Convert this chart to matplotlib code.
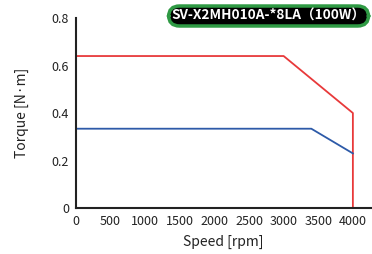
#!/usr/bin/env python3
import matplotlib
matplotlib.use('Agg')
import matplotlib.pyplot as plt

# Torque-speed curve data
peak_speed = [0, 3000, 4000, 4000]
peak_torque = [0.64, 0.64, 0.40, 0.0]

cont_speed = [0, 3400, 4000]
cont_torque = [0.334, 0.334, 0.23]

x_ticks = [0, 500, 1000, 1500, 2000, 2500, 3000, 3500, 4000]
y_ticks = [0, 0.2, 0.4, 0.6, 0.8]
y_labels = ['0', '0.2', '0.4', '0.6', '0.8']

title = 'SV-X2MH010A-*8LA（100W）'

plt.rcParams['font.family'] = ['Noto Sans CJK JP', 'DejaVu Sans']

fig = plt.figure(figsize=(3.72, 2.54), dpi=100)
ax = fig.add_axes([0.204, 0.181, 0.793, 0.748])

ax.plot(peak_speed, peak_torque, color='#e8393a', linewidth=1.3)
ax.plot(cont_speed, cont_torque, color='#2d5aa8', linewidth=1.3)

ax.set_xlim(0, 4260)
ax.set_ylim(0, 0.8)
ax.set_xticks(x_ticks)
ax.set_yticks(y_ticks)
ax.set_yticklabels(y_labels)
ax.tick_params(length=0, labelsize=9, colors='#222222', pad=5)

for side in ['top', 'right']:
    ax.spines[side].set_visible(False)
for side in ['left', 'bottom']:
    ax.spines[side].set_linewidth(1.5)
    ax.spines[side].set_color('#222222')

ax.set_xlabel('Speed [rpm]', fontsize=10, labelpad=5, color='#222222')
ax.set_ylabel('Torque [N·m]', fontsize=10, labelpad=16, color='#222222')

fig.text(0.722, 0.937, title, fontsize=9.8, color='white', fontweight='bold',
         ha='center', va='center',
         bbox=dict(boxstyle='round,pad=0.22,rounding_size=0.8', fc='black',
                   ec='#2f9a44', lw=2.5))

plt.savefig('out.png', dpi=100)
